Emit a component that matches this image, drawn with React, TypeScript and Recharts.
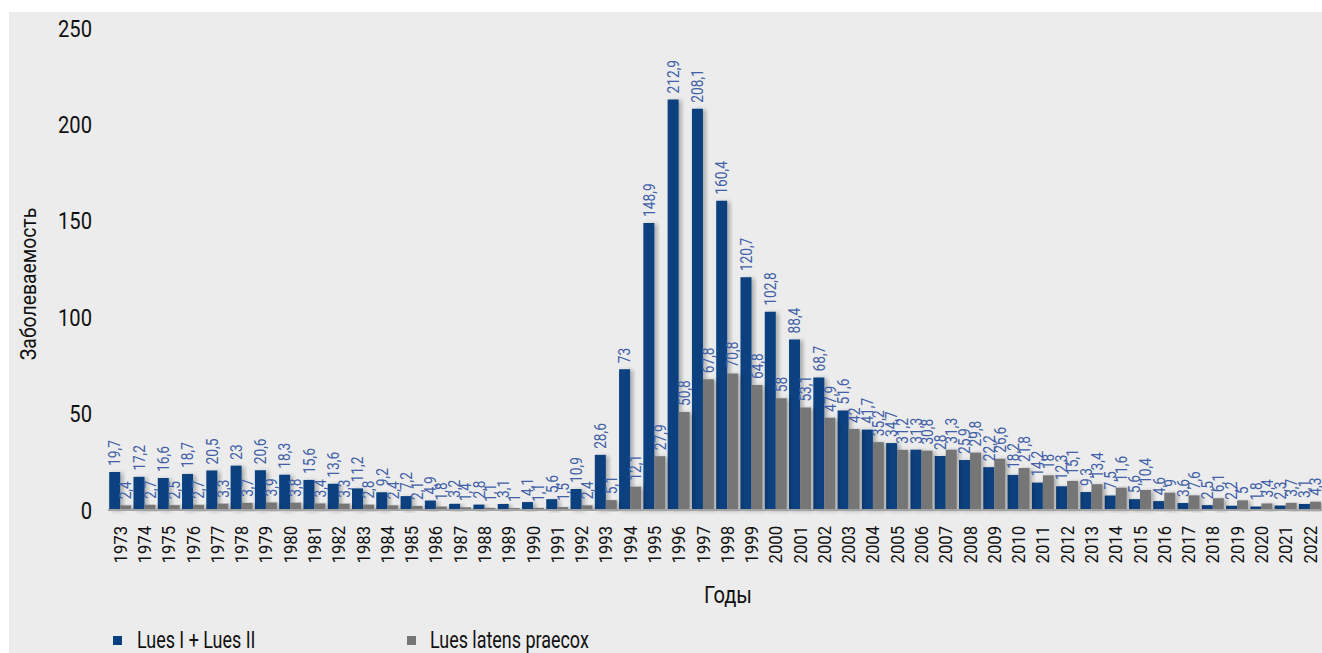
import { BarChart, Bar, XAxis, YAxis, Legend, LabelList } from 'recharts';

const years = [
  '1973', '1974', '1975', '1976', '1977', '1978', '1979', '1980', '1981', '1982',
  '1983', '1984', '1985', '1986', '1987', '1988', '1989', '1990', '1991', '1992',
  '1993', '1994', '1995', '1996', '1997', '1998', '1999', '2000', '2001', '2002',
  '2003', '2004', '2005', '2006', '2007', '2008', '2009', '2010', '2011', '2012',
  '2013', '2014', '2015', '2016', '2017', '2018', '2019', '2020', '2021', '2022',
];

const luesPrimarySecondary = [
  19.7, 17.2, 16.6, 18.7, 20.5, 23, 20.6, 18.3, 15.6, 13.6,
  11.2, 9.2, 7.2, 4.9, 3.2, 2.8, 3.1, 4.1, 5.6, 10.9,
  28.6, 73, 148.9, 212.9, 208.1, 160.4, 120.7, 102.8, 88.4, 68.7,
  51.6, 41.7, 34.7, 31.3, 28, 25.9, 22.2, 18.2, 14.2, 12.3,
  9.3, 7.5, 5.6, 4.6, 3.6, 2.5, 2.2, 1.8, 2.3, 3.1,
];

const luesLatensPraecox = [
  2.4, 2.7, 2.5, 2.7, 3.3, 3.7, 3.9, 3.8, 3.4, 3.3,
  2.8, 2.4, 2.1, 1.8, 1.4, 1.1, 1, 1.1, 1.5, 2.4,
  5.1, 12.1, 27.9, 50.8, 67.8, 70.8, 64.8, 58, 53.1, 47.9,
  42, 35.2, 31.2, 30.8, 31.3, 29.8, 26.6, 21.8, 18, 15.1,
  13.4, 11.6, 10.4, 9, 7.6, 6.1, 5, 3.4, 3.7, 4.3,
];

const yTicks = [0, 50, 100, 150, 200, 250];

const seriesNames = ['Lues I + Lues II', 'Lues latens praecox'];

const BLUE = '#073f7f';
const GREY = '#767676';
const LABEL_COLOR = '#4260a8';
const TEXT = '#111';
const FONT = 'Roboto, "DejaVu Sans Condensed", sans-serif';

const data = years.map((year, i) => ({
  year,
  primary: luesPrimarySecondary[i],
  latens: luesLatensPraecox[i],
}));

const fmt = (v: number) => String(v).replace('.', ',');

// condensed text: the source uses a narrow face, so squeeze Roboto along its run
const Narrow = ({ x, y, rotate = 0, sx, size, anchor, fill = TEXT, dy = '0.36em', children }: any) => (
  <text
    x={0}
    y={0}
    dy={dy}
    transform={`translate(${x},${y}) rotate(${rotate}) scale(${sx},1)`}
    textAnchor={anchor}
    fill={fill}
    fontSize={size}
    fontFamily={FONT}
  >
    {children}
  </text>
);

const BarLabel = (props: any) => {
  const { x, y, width, value } = props;
  return (
    <Narrow x={x + width / 2} y={y - 6} rotate={-90} sx={0.86} size={16} anchor="start" fill={LABEL_COLOR}>
      {fmt(value)}
    </Narrow>
  );
};

const YearTick = (props: any) => {
  const { x, y, payload } = props;
  return (
    <Narrow x={x} y={y + 8} rotate={-90} sx={0.9} size={18.5} anchor="end">
      {payload.value}
    </Narrow>
  );
};

const ValueTick = (props: any) => {
  const { x, y, payload } = props;
  return (
    <Narrow x={x} y={y} sx={0.84} size={24} anchor="end">
      {payload.value}
    </Narrow>
  );
};

const LegendContent = () => (
  <svg width={1313} height={30} style={{ display: 'block' }}>
    <rect x={104} y={13} width={9} height={9} fill={BLUE} />
    <Narrow x={128} y={25} sx={0.78} size={23} anchor="start" dy={0}>{seriesNames[0]}</Narrow>
    <rect x={398} y={13} width={9} height={9} fill={GREY} />
    <Narrow x={421} y={25} sx={0.78} size={23} anchor="start" dy={0}>{seriesNames[1]}</Narrow>
  </svg>
);

export default function App() {
  return (
    <>
      <style>{'body{margin:0}'}</style>
      <div style={{ position: 'absolute', left: 9, top: 12, width: 1313, height: 641, background: '#ececec' }}>
        <BarChart
          width={1313}
          height={641}
          data={data}
          margin={{ top: 16, right: 0, left: 0, bottom: 0 }}
          barCategoryGap="5%"
          barGap={0}
        >
          <defs>
            <filter id="barShadow" x="-30%" y="-10%" width="180%" height="130%">
              <feDropShadow dx="3" dy="1" stdDeviation="2" floodColor="#000" floodOpacity="0.28" />
            </filter>
          </defs>
          <XAxis
            dataKey="year"
            interval={0}
            height={113}
            tickLine={false}
            axisLine={{ stroke: '#a3a3a3', strokeWidth: 2 }}
            tick={<YearTick />}
            label={() => (
              <Narrow x={719} y={582} sx={0.84} size={24} anchor="middle">Годы</Narrow>
            )}
          />
          <YAxis
            width={99}
            domain={[0, 250]}
            ticks={yTicks}
            tickLine={false}
            axisLine={false}
            tickMargin={10}
            tick={<ValueTick />}
            label={() => (
              <Narrow x={19} y={272} rotate={-90} sx={0.88} size={22} anchor="middle">Заболеваемость</Narrow>
            )}
          />
          <Legend verticalAlign="bottom" height={30} content={<LegendContent />} wrapperStyle={{ left: 0, width: 1313 }} />
          <Bar dataKey="primary" name={seriesNames[0]} fill={BLUE} isAnimationActive={false} filter="url(#barShadow)">
            <LabelList dataKey="primary" content={<BarLabel />} />
          </Bar>
          <Bar dataKey="latens" name={seriesNames[1]} fill={GREY} isAnimationActive={false} filter="url(#barShadow)">
            <LabelList dataKey="latens" content={<BarLabel />} />
          </Bar>
        </BarChart>
      </div>
    </>
  );
}
